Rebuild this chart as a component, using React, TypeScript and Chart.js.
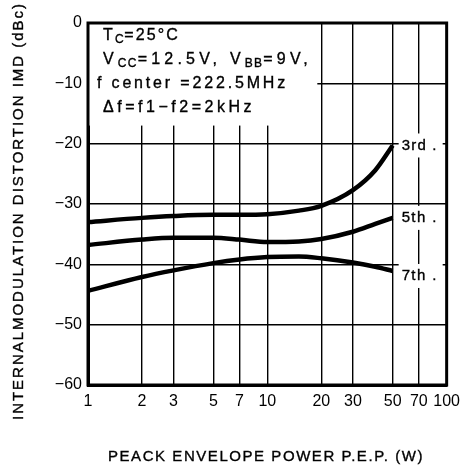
import React, { useEffect, useRef } from 'react';
import { Chart, registerables } from 'chart.js';

Chart.register(...registerables);

// ---- data ----
const power = [1, 2, 3, 5, 7, 10, 15, 20, 30, 40, 50]; // P.E.P. (W)
const imd3rd = [-33.0, -32.3, -32.0, -31.8, -31.8, -31.7, -31.1, -30.3, -27.7, -24.4, -20.3];
const imd5th = [-36.8, -35.9, -35.6, -35.6, -35.9, -36.3, -36.2, -35.8, -34.6, -33.3, -32.3];
const imd7th = [-44.4, -42.1, -41.0, -39.8, -39.2, -38.8, -38.7, -39.0, -39.7, -40.4, -41.1];
const seriesNames = ['3rd .', '5th .', '7th .'];
const xTickValues = [1, 2, 3, 5, 7, 10, 20, 30, 50, 70, 100];
const yMin = -60;
const yMax = 0;
const yStep = 10;
const xTitle = 'PEACK ENVELOPE POWER P.E.P. (W)';
const yTitle = 'INTERNALMODULATION DISTORTION IMD (dBc)';
// condition lines: [text, isSubscript] segments
const conditionLines: [string, boolean][][] = [
  [['T', false], ['C', true], ['=25°C', false]],
  [['V', false], ['CC', true], ['=12.5V, V', false], ['BB', true], ['=9V,', false]],
  [['f center =222.5MHz', false]],
  [['Δf=f1−f2=2kHz', false]],
];

const FONT = '"Liberation Sans", Arial, Helvetica, sans-serif';

function drawFitted(
  ctx: CanvasRenderingContext2D,
  segs: [string, boolean][],
  x: number,
  y: number,
  targetW: number,
  size: number
) {
  const anyCtx = ctx as any;
  const hasLS = 'letterSpacing' in anyCtx;
  if (hasLS) anyCtx.letterSpacing = '0px';
  let w = 0;
  let n = 0;
  let subN = 0;
  for (const [t, sub] of segs) {
    ctx.font = `${sub ? Math.round(size * 0.72) : size}px ${FONT}`;
    w += ctx.measureText(t).width;
    if (sub) subN += [...t].length;
    else n += [...t].length;
  }
  const subFactor = 0.3;
  const ls = hasLS ? Math.max(0, (targetW - w) / (n + subN * subFactor)) : 0;
  let cx = x;
  ctx.textBaseline = 'middle';
  ctx.textAlign = 'left';
  ctx.lineWidth = 0.35;
  ctx.strokeStyle = ctx.fillStyle as string;
  for (const [t, sub] of segs) {
    const s = sub ? Math.round(size * 0.72) : size;
    const segLS = sub ? ls * subFactor : ls;
    ctx.font = `${s}px ${FONT}`;
    if (hasLS) anyCtx.letterSpacing = '0px';
    const wt = ctx.measureText(t).width;
    if (hasLS) anyCtx.letterSpacing = `${segLS}px`;
    const ty = y + (sub ? size * 0.2 : 0);
    ctx.fillText(t, cx, ty);
    ctx.strokeText(t, cx, ty);
    cx += wt + [...t].length * segLS;
  }
  if (hasLS) anyCtx.letterSpacing = '0px';
}

const decorPlugin = {
  id: 'decor',
  afterDatasetsDraw(chart: any) {
    const { ctx, chartArea: a, scales } = chart;
    const xs = scales.x;
    const ys = scales.y;
    ctx.save();

    // white condition box (covers grid lines)
    const boxR = xs.getPixelForValue(20) - 4;
    const boxB = ys.getPixelForValue(-17);
    ctx.fillStyle = '#fff';
    ctx.fillRect(a.left + 1, a.top + 1, boxR - a.left - 1, boxB - a.top - 1);
    ctx.fillStyle = '#000';
    const lineYs = [36, 60, 84, 108];
    const lineX = [103, 103, 97, 103];
    const lineW = [77, 209, 191, 152];
    conditionLines.forEach((segs, i) => {
      drawFitted(ctx, segs, lineX[i], lineYs[i], lineW[i], 16);
    });

    // series labels at the end of each curve
    const series = [imd3rd, imd5th, imd7th];
    series.forEach((vals, i) => {
      const yv = ys.getPixelForValue(vals[vals.length - 1]) + (i === 2 ? 5 : 0);
      const lx = xs.getPixelForValue(power[power.length - 1]) + 9;
      ctx.fillStyle = '#fff';
      ctx.fillRect(lx - 3, yv - 12, 44, 24);
      ctx.fillStyle = '#000';
      drawFitted(ctx, [[seriesNames[i], false]], lx, yv, 36, 15);
    });

    // frame
    ctx.strokeStyle = '#000';
    ctx.lineWidth = 3;
    ctx.strokeRect(a.left, a.top, a.right - a.left, a.bottom - a.top);

    // axis titles
    ctx.fillStyle = '#000';
    drawFitted(ctx, [[xTitle, false]], 108, 457, 316, 15);
    ctx.translate(19, 420);
    ctx.rotate(-Math.PI / 2);
    drawFitted(ctx, [[yTitle, false]], 0, 0, 418, 15);
    ctx.restore();
  },
};

export default function App() {
  const ref = useRef<HTMLCanvasElement | null>(null);
  useEffect(() => {
    if (!ref.current) return;
    const mk = (vals: number[]) => power.map((p, i) => ({ x: p, y: vals[i] }));
    const ds = (label: string, vals: number[]) => ({
      label,
      data: mk(vals),
      borderColor: '#000',
      borderWidth: 4.5,
      pointRadius: 0,
      fill: false,
      tension: 0.4,
      cubicInterpolationMode: 'monotone' as const,
    });
    const chart = new Chart(ref.current, {
      type: 'line',
      data: {
        datasets: [
          ds(seriesNames[0], imd3rd),
          ds(seriesNames[1], imd5th),
          ds(seriesNames[2], imd7th),
        ],
      },
      options: {
        responsive: false,
        animation: false,
        layout: { padding: { top: 23, right: 18, left: 0, bottom: 0 } },
        plugins: { legend: { display: false }, tooltip: { enabled: false } },
        scales: {
          x: {
            type: 'logarithmic',
            min: 1,
            max: 100,
            afterBuildTicks: (s: any) => {
              s.ticks = xTickValues.map((v) => ({ value: v }));
            },
            afterFit: (s: any) => {
              s.height = 81;
            },
            grid: { color: '#000', lineWidth: 1.4, drawTicks: false },
            border: { display: true, color: '#000', width: 3 },
            ticks: {
              autoSkip: false,
              maxRotation: 0,
              padding: 7,
              color: '#000',
              font: { family: FONT, size: 16 },
              callback: (v: any) => String(v),
            },
          },
          y: {
            type: 'linear',
            min: yMin,
            max: yMax,
            afterFit: (s: any) => {
              s.width = 88;
            },
            grid: { color: '#000', lineWidth: 1.4, drawTicks: false },
            border: { display: true, color: '#000', width: 3 },
            ticks: {
              stepSize: yStep,
              padding: 6,
              color: '#000',
              font: { family: FONT, size: 16 },
              callback: (v: any) => (Number(v) === 0 ? '0' : '−' + Math.abs(Number(v))),
            },
          },
        },
      },
      plugins: [decorPlugin],
    });
    return () => chart.destroy();
  }, []);
  return (
    <div style={{ position: 'fixed', left: 0, top: 0, width: 467, height: 466, background: '#fff' }}>
      <canvas ref={ref} width={467} height={466} style={{ display: 'block' }} />
    </div>
  );
}
